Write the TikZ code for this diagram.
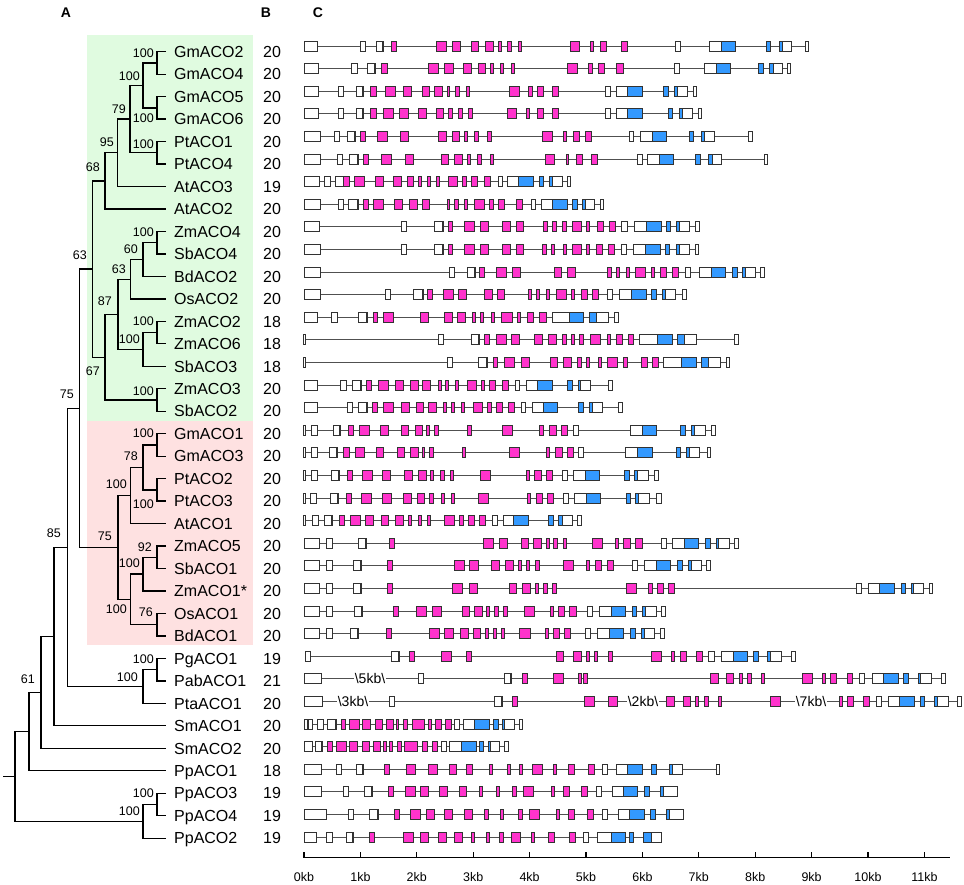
\documentclass[tikz,border=0pt]{standalone}
\usepackage{fontspec}
\setmainfont{Liberation Sans}
\usetikzlibrary{calc}
\definecolor{em}{RGB}{255,51,204}
\definecolor{eb}{RGB}{51,153,255}
\definecolor{ew}{RGB}{255,255,255}
\definecolor{bggreen}{RGB}{224,251,224}
\definecolor{bgpink}{RGB}{254,225,225}
\definecolor{exedge}{RGB}{50,50,50}
\definecolor{intr}{RGB}{80,80,80}
\tikzset{
  br/.style={line width=1.3pt, draw=black},
  leaf/.style={anchor=west, inner sep=0pt, text height=11.5pt, text depth=0pt, font=\fontsize{16}{18}\selectfont},
  num/.style={anchor=center, inner sep=0pt, text height=11.5pt, text depth=0pt, font=\fontsize{16}{18}\selectfont},
  boot/.style={anchor=east, inner sep=0pt, text height=9pt, text depth=0pt, font=\fontsize{12.5}{14}\selectfont},
  head/.style={anchor=center, inner sep=0pt, text height=10pt, text depth=0pt, font=\fontsize{14}{16}\selectfont\bfseries},
  axlab/.style={anchor=center, inner sep=0pt, text height=9pt, text depth=0pt, font=\fontsize{12.5}{14}\selectfont},
  brk/.style={anchor=center, fill=white, inner xsep=1pt, inner ysep=1pt, text height=10pt, text depth=0pt, font=\fontsize{14}{16}\selectfont},
  intron/.style={line width=1pt, draw=intr},
  exon/.style={line width=0.7pt, draw=exedge},
  axisline/.style={line width=1.3pt, draw=black}
}
\newcommand\generow[4]{%
  \pgfmathsetmacro\gy{46+(#1-1)*22.6}
  \draw[intron] (#2,\gy) -- (#3,\gy);
  \foreach \a/\b/\c in {#4}{\draw[exon,fill=\c] (\a,\gy-5) rectangle (\b,\gy+5);}
}
\begin{document}
\begin{tikzpicture}[x=1pt,y=-1pt]
\useasboundingbox (0,0) rectangle (964,884);
% backgrounds
\fill[bggreen] (87,35) rectangle (253,421);
\fill[bgpink] (87,421) rectangle (253,645);
% headers
\node[head] (hA) at (66,12) {A};
\node[head] (hB) at (266,12) {B};
\node[head] (hC) at (318,12) {C};
% leaves
\foreach \i/\n/\k in {1/GmACO2/20,2/GmACO4/20,3/GmACO5/20,4/GmACO6/20,5/PtACO1/20,6/PtACO4/20,7/AtACO3/19,8/AtACO2/20,9/ZmACO4/20,10/SbACO4/20,11/BdACO2/20,12/OsACO2/20,13/ZmACO2/18,14/ZmACO6/18,15/SbACO3/18,16/ZmACO3/20,17/SbACO2/20,18/GmACO1/20,19/GmACO3/20,20/PtACO2/20,21/PtACO3/20,22/AtACO1/20,23/ZmACO5/20,24/SbACO1/20,25/ZmACO1*/20,26/OsACO1/20,27/BdACO1/20,28/PgACO1/19,29/PabACO1/21,30/PtaACO1/20,31/SmACO1/20,32/SmACO2/20,33/PpACO1/18,34/PpACO3/19,35/PpACO4/19,36/PpACO2/19}{
  \pgfmathsetmacro\ty{51.7+(\i-1)*22.47}
  \coordinate (t\i) at (166,\ty);
  \node[leaf] (lab\i) at (174,\ty) {\n};
  \node[num] (num\i) at (272,\ty) {\k};
}
% internal nodes
\coordinate (nA) at (157,62.94);
\coordinate (nB) at (157,107.88);
\coordinate (nC) at (143,85.41);
\coordinate (nD) at (157,152.82);
\coordinate (nE) at (130,119.11);
\coordinate (nF) at (117.7,152.82);
\coordinate (nG) at (105,180.9);
\coordinate (nH) at (157,242.7);
\coordinate (nI) at (143,259.55);
\coordinate (nJ) at (130.7,279.21);
\coordinate (nK) at (157,332.58);
\coordinate (nL) at (143,349.43);
\coordinate (nM) at (118,314.32);
\coordinate (nN) at (157,399.99);
\coordinate (nO) at (105,357.15);
\coordinate (nP) at (92.3,269.03);
\coordinate (nQ) at (157,444.93);
\coordinate (nR) at (157,489.87);
\coordinate (nS) at (143,467.4);
\coordinate (nT) at (130.7,495.48);
\coordinate (nU) at (157,557.28);
\coordinate (nV) at (143,574.13);
\coordinate (nW) at (157,624.69);
\coordinate (nX) at (130.7,599.41);
\coordinate (nY) at (118,547.45);
\coordinate (nZ) at (79.3,408.24);
\coordinate (nAA) at (157,669.63);
\coordinate (nAB) at (143,686.48);
\coordinate (nAC) at (67.3,547.36);
\coordinate (nAD) at (54,636.58);
\coordinate (nAE) at (41,692.43);
\coordinate (nAF) at (29,731.59);
\coordinate (nAG) at (157,804.45);
\coordinate (nAH) at (143,821.3);
\coordinate (nRoot) at (15,776.45);
\coordinate (stub) at (3,776.45);
% branches
\draw[br] (t1) -| (nA) |- (t2);
\draw[br] (t3) -| (nB) |- (t4);
\draw[br] (nA) -| (nC) |- (nB);
\draw[br] (t5) -| (nD) |- (t6);
\draw[br] (nC) -| (nE) |- (nD);
\draw[br] (nE) -| (nF) |- (t7);
\draw[br] (nF) -| (nG) |- (t8);
\draw[br] (t9) -| (nH) |- (t10);
\draw[br] (nH) -| (nI) |- (t11);
\draw[br] (nI) -| (nJ) |- (t12);
\draw[br] (t13) -| (nK) |- (t14);
\draw[br] (nK) -| (nL) |- (t15);
\draw[br] (nJ) -| (nM) |- (nL);
\draw[br] (t16) -| (nN) |- (t17);
\draw[br] (nM) -| (nO) |- (nN);
\draw[br] (nG) -| (nP) |- (nO);
\draw[br] (t18) -| (nQ) |- (t19);
\draw[br] (t20) -| (nR) |- (t21);
\draw[br] (nQ) -| (nS) |- (nR);
\draw[br] (nS) -| (nT) |- (t22);
\draw[br] (t23) -| (nU) |- (t24);
\draw[br] (nU) -| (nV) |- (t25);
\draw[br] (t26) -| (nW) |- (t27);
\draw[br] (nV) -| (nX) |- (nW);
\draw[br] (nT) -| (nY) |- (nX);
\draw[br] (nP) -| (nZ) |- (nY);
\draw[br] (t28) -| (nAA) |- (t29);
\draw[br] (nAA) -| (nAB) |- (t30);
\draw[br] (nZ) -| (nAC) |- (nAB);
\draw[br] (nAC) -| (nAD) |- (t31);
\draw[br] (nAD) -| (nAE) |- (t32);
\draw[br] (nAE) -| (nAF) |- (t33);
\draw[br] (t34) -| (nAG) |- (t35);
\draw[br] (nAG) -| (nAH) |- (t36);
\draw[br] (nAF) -| (nRoot) |- (nAH);
\draw[br] (nRoot) -- (stub);
% bootstrap values
\node[boot] (bA) at (154,53) {100};
\node[boot] (bB) at (154,118) {100};
\node[boot] (bC) at (140,76) {100};
\node[boot] (bD) at (154,144) {100};
\node[boot] (bE) at (126,109) {79};
\node[boot] (bF) at (114,142) {95};
\node[boot] (bG) at (100,167) {68};
\node[boot] (bH) at (154,232) {100};
\node[boot] (bI) at (138,249) {60};
\node[boot] (bJ) at (126,269) {63};
\node[boot] (bK) at (154,321) {100};
\node[boot] (bL) at (140,339) {100};
\node[boot] (bM) at (112,301) {87};
\node[boot] (bN) at (154,391) {100};
\node[boot] (bO) at (100,371) {67};
\node[boot] (bP) at (87,255) {63};
\node[boot] (bQ) at (154,433) {100};
\node[boot] (bR) at (154,504) {100};
\node[boot] (bS) at (138,456) {78};
\node[boot] (bT) at (127,484) {100};
\node[boot] (bU) at (152,547) {92};
\node[boot] (bV) at (140,563) {100};
\node[boot] (bW) at (153,612) {76};
\node[boot] (bX) at (127,609) {100};
\node[boot] (bY) at (112,536) {75};
\node[boot] (bZ) at (74,394) {75};
\node[boot] (bAA) at (154,659) {100};
\node[boot] (bAB) at (138,677) {100};
\node[boot] (bAC) at (61,533) {85};
\node[boot] (bAE) at (35,679) {61};
\node[boot] (bAG) at (154,793) {100};
\node[boot] (bAH) at (140,811) {100};
% gene structures
\generow{1}{304}{808}{304/317/ew,360/365/ew,376/382/ew,382/383.5/em,391/396/em,436/446/em,452/460/em,471/478/em,485/493/em,498/501/em,507/511/em,518/521/em,570/579/em,590/593/em,600/606/em,621/627/em,675/680/ew,709/721/ew,721/735/eb,766/770/eb,779/782/eb,782/791/ew,805/808/ew}
\generow{2}{304}{790}{304/318/ew,351/357/ew,367/374/ew,374/375.5/em,381/387/em,428/438/em,444/453/em,463/471/em,478/485/em,490/493/em,500/503/em,511/514/em,567/577/em,588/592/em,598/604/em,616/623/em,674/679/ew,704/716/ew,716/730/eb,758/763/eb,769/773/eb,773/782/ew,787/790/ew}
\generow{3}{304}{696}{304/318/ew,338/343/ew,356/362/ew,362/363.5/em,370/376/em,385/395/em,403/411/em,422/429/em,434/442/em,447/449.5/em,455/459/em,466/469/em,509/519/em,528/532/em,537/543/em,552/558/em,605/610/ew,616/627/ew,627/642/eb,663/668/eb,674/677/eb,677/687/ew,693/696/ew}
\generow{4}{304}{701}{304/318/ew,338/343/ew,356/362/ew,362/363.5/em,370/376/em,383/393/em,399/408/em,418/426/em,436/443/em,448/452/em,458/462/em,468/472/em,507/516/em,526/529/em,537/543/em,552/558/em,605/610/ew,616/627/ew,627/642/eb,668/672/eb,679/682/eb,682/692/ew,698/701/ew}
\generow{5}{304}{752}{304/320/ew,334/339/ew,347/354/ew,354/355.5/em,360/365/em,377/387/em,400/408/em,438/446/em,452/459/em,464/467/em,474/478/em,487/491/em,542/552/em,563/566/em,573/579/em,585/591/em,629/633/ew,640/652/ew,652/666/eb,689/693/eb,701/704/eb,704/714/ew,748/752/ew}
\generow{6}{304}{767}{304/320/ew,337/342/ew,349/357/ew,357/358.5/em,363/368/em,381/391/em,405/413/em,441/448/em,454/462/em,467/470/em,477/481/em,490/493/em,545/554/em,566/568.5/em,576/582/em,591/597/em,637/642/ew,647/659/ew,659/673/eb,695/700/eb,708/712/eb,712/721/ew,764/767/ew}
\generow{7}{304}{570}{304/319/ew,324/330/ew,335/343/ew,343/349/em,354/364/em,375/383/em,393/401/em,407/413/em,418/421/em,427/430/em,436/439/em,448/457/em,462/466/em,471/477/em,484/490/em,498/502/ew,507/518/ew,518/533/eb,539/543/eb,549/552/eb,552/562/ew,567/570/ew}
\generow{8}{304}{603}{304/320/ew,338/343/ew,348/357/ew,357/358.5/em,363/368/em,373/383/em,394/402/em,409/417/em,422/429/em,447/449.5/em,454/458/em,464/467/em,474/484/em,489/493/em,498/504/em,516/522/em,531/535/ew,541/552/ew,552/567/eb,572/577/eb,582/585/eb,585/594/ew,600/603/ew}
\generow{9}{304}{699}{304/319/ew,401/406/ew,434/442/ew,442/443.5/em,448/452/em,464/474/em,480/488/em,502/510/em,516/523/em,543/547/em,552/556/em,562/566/em,572/581/em,586/589/em,597/603/em,609/615/em,621/627/ew,634/646/ew,646/661/eb,666/670/eb,676/679/eb,679/689/ew,695/699/ew}
\generow{10}{304}{698}{304/320/ew,401/406/ew,434/442/ew,442/443.5/em,448/452/em,464/474/em,480/488/em,502/510/em,516/523/em,542/546/em,551/554/em,563/566/em,572/581/em,586/589/em,596/602/em,608/614/em,621/626/ew,633/645/ew,645/660/eb,665/669/eb,676/679/eb,679/689/ew,695/698/ew}
\generow{11}{304}{764}{304/320/ew,449/454/ew,467/474/ew,474/475.5/em,479/484/em,496/506/em,512/520/em,554/561/em,567/575/em,607/611/em,616/619/em,626/629/em,635/645/em,651/654/em,660/666/em,672/678/em,685/690/ew,699/711/ew,711/725/eb,732/737/eb,742/745/eb,745/755/ew,760/764/ew}
\generow{12}{304}{686}{304/320/ew,385/390/ew,413/422/ew,422/423.5/em,427/432/em,443/453/em,458/466/em,484/492/em,497/504/em,528/531/em,536/539/em,546/549/em,556/566/em,571/574/em,581/587/em,592/598/em,607/612/ew,619/631/ew,631/646/eb,651/656/eb,662/665/eb,665/675/ew,682/686/ew}
\generow{13}{304}{618}{304/317/ew,331/337/ew,358/366/ew,366/367.5/em,373/377/em,383/393/em,420/428/em,444/452/em,457/465/em,472/475/em,480/483/em,491/494/em,501/512/em,517/520/em,527/533/em,539/546/em,552/569/ew,569/583/eb,589/596/eb,596/608/ew,614/618/ew}
\generow{14}{304}{738}{303.5/305.5/ew,438/443/ew,471/478/ew,478/479.5/em,484/489/em,496/506/em,511/519/em,534/542/em,548/556/em,562/566/em,571/574/em,579/583/em,590/600/em,607/610/em,616/622/em,628/633/em,639/657/ew,657/672/eb,677/684/eb,684/696/ew,734/738/ew}
\generow{15}{304}{729}{303.5/305.5/ew,447/452/ew,478/486/ew,486/487.5/em,493/497/em,504/514/em,521/529/em,550/557/em,563/571/em,577/581/em,586/589/em,598/601/em,607/617/em,623/627/em,641/647/em,652/658/em,663/681/ew,681/696/eb,701/708/eb,708/720/ew,726/729/ew}
\generow{16}{304}{612}{304/317/ew,340/346/ew,352/360/ew,360/361.5/em,366/371/em,378/388/em,395/403/em,410/418/em,422/430/em,438/441/em,445/448/em,455/458/em,467/476/em,481/484/em,489/495/em,502/508/em,515/519/ew,526/537/ew,537/552/eb,567/572/eb,578/580/eb,580/590/ew,608/612/ew}
\generow{17}{304}{622}{304/317/ew,347/352/ew,358/366/ew,366/367.5/em,372/377/em,383/393/em,401/409/em,416/423/em,428/436/em,443/446/em,451/454/em,461/464/em,473/482/em,487/491/em,496/502/em,508/514/em,521/525/ew,532/543/ew,543/557/eb,578/583/eb,589/592/eb,592/602/ew,618/622/ew}
\generow{18}{304}{715}{303.5/305.5/ew,311/317/ew,333/339/ew,339/340.5/em,348/353/em,359/369/em,380/388/em,401/408/em,415/422/em,426/429/em,434/438/em,467/471/em,502/512/em,539/543/em,549/556/em,561/567/em,573/578/ew,630/642/ew,642/656/eb,680/685/eb,691/694/eb,694/705/ew,711/715/ew}
\generow{19}{304}{710}{303.5/305.5/ew,311/317/ew,329/336/ew,336/337.5/em,343/349/em,355/364/em,376/383/em,397/404/em,410/418/em,422/424.5/em,429/433/em,462/465/em,509/519/em,546/549/em,555/562/em,567/573/em,578/583/ew,625/637/ew,637/652/eb,676/680/eb,686/689/eb,689/699/ew,707/710/ew}
\generow{20}{304}{658}{303.5/305.5/ew,311/317/ew,331/338/ew,338/339.5/em,347/352/em,362/372/em,382/390/em,404/412/em,418/426/em,430/433/em,440/444/em,450/453/em,480/490/em,526/529/em,534/541/em,546/552/em,562/567/ew,573/585/ew,585/599/eb,624/629/eb,634/637/eb,637/648/ew,654/658/ew}
\generow{21}{304}{661}{303.5/305.5/ew,310/316/ew,330/337/ew,337/338.5/em,346/351/em,361/371/em,382/391/em,403/411/em,417/424/em,429/433/em,441/444/em,451/454/em,478/488/em,527/530/em,536/542/em,547/553/em,563/568/ew,574/586/ew,586/600/eb,626/630/eb,635/638/eb,638/649/ew,656/661/ew}
\generow{22}{304}{581}{303.5/305.5/ew,312/318/ew,324/331/ew,331/332.5/em,339/344/em,350/360/em,365/373/em,381/388/em,395/403/em,408/411/em,418/421/em,427/430/em,444/454/em,459/463/em,468/474/em,479/485/em,492/497/ew,503/513/ew,513/528/eb,548/553/eb,558/562/eb,562/572/ew,577/581/ew}
\generow{23}{304}{738}{304/319/ew,326/332/ew,358/365/ew,365/366.5/em,389/394/em,483/493/em,499/507/em,521/528/em,533/541/em,546/549/em,553/557/em,563/566/em,592/602/em,615/618/em,623/630/em,635/642/em,661/666/ew,672/684/ew,684/698/eb,705/710/eb,716/718/eb,718/729/ew,734/738/ew}
\generow{24}{304}{710}{304/319/ew,326/332/ew,353/360/ew,360/361.5/em,387/392/em,454/464/em,469/478/em,491/499/em,505/513/em,518/521/em,526/529/em,535/539/em,563/573/em,586/589/em,595/601/em,607/613/em,632/637/ew,644/656/ew,656/670/eb,677/682/eb,688/691/eb,691/701/ew,706/710/ew}
\generow{25}{304}{932}{304/319/ew,326/332/ew,353/360/ew,360/361.5/em,387/392/em,452/462/em,469/477/em,509/516/em,522/530/em,535/538/em,543/547/em,552/556/em,626/636/em,648/652/em,657/663/em,668/674/em,856/861/ew,868/879/ew,879/894/eb,901/905/eb,911/913/eb,913/923/ew,929/932/ew}
\generow{26}{304}{665}{304/319/ew,326/332/ew,354/361/ew,361/362.5/em,393/398/em,416/426/em,432/441/em,462/469/em,474/482/em,486/489/em,494/498/em,503/507/em,524/534/em,550/553/em,558/564/em,569/576/em,587/592/ew,599/611/ew,611/625/eb,632/636/eb,642/645/eb,645/656/ew,661/665/ew}
\generow{27}{304}{664}{304/319/ew,326/332/ew,350/357/ew,357/358.5/em,386/391/em,429/439/em,444/453/em,460/468/em,473/480/em,485/488/em,493/496/em,501/504/em,519/530/em,545/548/em,553/559/em,564/570/em,585/590/ew,597/609/ew,609/623/eb,630/635/eb,641/644/eb,644/654/ew,660/664/ew}
\generow{28}{305}{795}{305/310/ew,391/398/ew,398/399.5/em,409/414/em,441/451/em,466/471/em,556/563/em,573/581/em,586/589/em,594/597/em,608/612/em,651/661/em,671/674/em,680/686/em,696/702/em,708/714/ew,721/733/ew,733/747/eb,753/758/eb,767/770/eb,770/781/ew,791/795/ew}
\generow{29}{304}{945}{304/321/ew,418/423/ew,504/510/ew,510/511.5/em,522/527/em,553/563/em,578/581/em,583/587/em,710/718/em,726/733/em,739/742/em,747/751/em,761/764/em,802/812/em,822/825/em,830/836/em,847/852/em,859/864/ew,872/883/ew,883/898/eb,903/908/eb,918/920/eb,920/931/ew,941/945/ew}
\generow{30}{304}{961}{304/322/ew,389/394/ew,494/501/ew,501/502.5/em,512/517/em,584/594/em,608/617/em,666/674/em,683/690/em,695/698/em,704/708/em,718/721/em,770/780/em,839/842/em,847/853/em,863/869/em,876/881/ew,888/899/ew,899/914/eb,920/924/eb,934/937/eb,937/948/ew,957/961/ew}
\generow{31}{304}{522}{304/307/ew,308.5/312/ew,317/323/ew,327/335/ew,335/336.5/em,341/345/em,349/359/em,362/370/em,375/382/em,386/393/em,396/398.5/em,403/407/em,412/424/em,428/431/em,435/441/em,445/451/em,454/459/ew,463/474/ew,474/489/eb,493/498/eb,502/504/eb,504/514/ew,519/522/ew}
\generow{32}{304}{508}{304/312/ew,315/321/ew,321/322.5/em,327/332/em,336/346/em,349/357/em,362/369/em,373/380/em,383/386/em,389/392/em,397/401/em,404/417/em,422/427/em,432/437/em,441/446/ew,449/461/ew,461/476/eb,479/483/eb,488/490/eb,490/499/ew,504/508/ew}
\generow{33}{304}{719}{304/321/ew,336/341/ew,356/362/ew,362/363.5/em,384/389/em,406/415/em,428/437/em,449/456/em,466/472/em,489/492/em,507/510/em,519/522/em,532/542/em,553/556/em,568/574/em,588/594/em,602/607/ew,616/627/ew,627/642/eb,651/656/eb,669/672/eb,672/682/ew,716/719/ew}
\generow{34}{304}{677}{304/321/ew,343/348/ew,364/371/ew,371/372.5/em,388/393/em,405/415/em,420/428/em,439/447/em,459/466/em,479/482/em,496/499/em,512/516/em,523/533/em,551/554/em,563/569/em,581/587/em,596/601/ew,612/623/ew,623/637/eb,644/649/eb,660/663/eb,663/677/ew}
\generow{35}{304}{683}{304/326/ew,348/353/ew,369/377/ew,377/378.5/em,394/399/em,410/420/em,426/434/em,444/452/em,464/472/em,484/488/em,500/503/em,518/522/em,529/539/em,556/559/em,568/574/em,587/593/em,602/607/ew,618/629/ew,629/644/eb,650/655/eb,666/669/eb,669/683/ew}
\generow{36}{304}{661}{304/316/ew,326/332/ew,346/352/ew,352/353.5/em,369/374/em,403/413/em,420/428/em,438/446/em,454/462/em,471/474/em,486/489/em,499/503/em,511/520/em,531/534/em,548/554/em,569/575/em,583/588/ew,597/611/ew,611/625/eb,629/633/eb,643/651/eb,651/661/ew}
% intron breaks
\node[brk] (brk1) at (370,678.8) {\textbackslash 5kb\textbackslash};
\node[brk] (brk2) at (353,701.4) {\textbackslash 3kb\textbackslash};
\node[brk] (brk3) at (643,701.4) {\textbackslash 2kb\textbackslash};
\node[brk] (brk4) at (811,701.4) {\textbackslash 7kb\textbackslash};
% axis
\coordinate (ax0) at (304,857.7);
\coordinate (ax1) at (950,857.7);
\draw[axisline] (ax0) -- (ax1);
\foreach \k in {0,...,11}{
  \coordinate (tk\k) at ({304+\k*56.4},857.7);
  \draw[axisline] (tk\k) -- ++(0,-6);
  \node[axlab] (kb\k) at ({304+\k*56.4},877) {\k kb};
}
\end{tikzpicture}
\end{document}
